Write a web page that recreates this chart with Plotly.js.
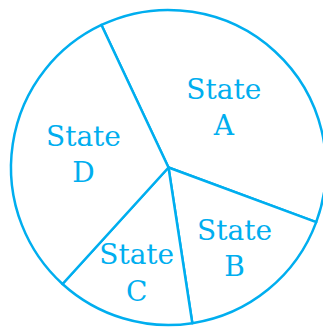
<!DOCTYPE html>
<html>
<head>
<meta charset="utf-8">
<script src="https://cdn.plot.ly/plotly-3.0.1.min.js"></script>
<style>
  html, body { margin: 0; padding: 0; overflow: hidden; background: #fff; }
  #chart { width: 340px; height: 328px; }
</style>
</head>
<body>
<div id="chart"></div>
<script>
// States and their share of the circle (degrees)
const states = ['A', 'B', 'C', 'D'];
const degrees = [135.5, 61, 51, 112.5];

const blue = '#00aeef';

const trace = {
    type: 'pie',
    labels: states.map(s => 'State<br>' + s),
    values: degrees,
    sort: false,
    direction: 'clockwise',
    rotation: -25.2,
    textinfo: 'label',
    textposition: 'inside',
    insidetextorientation: 'horizontal',
    textfont: { family: 'DejaVu Serif', size: 28, color: blue },
    marker: {
        colors: ['#ffffff', '#ffffff', '#ffffff', '#ffffff'],
        line: { color: blue, width: 2.5 }
    },
    hoverinfo: 'none'
};

const layout = {
    width: 340,
    height: 328,
    margin: { l: 11, r: 14, t: 10, b: 3 },
    showlegend: false,
    paper_bgcolor: '#ffffff',
    uniformtext: { mode: 'show', minsize: 28 }
};

Plotly.newPlot('chart', [trace], layout, { staticPlot: true });
</script>
</body>
</html>
